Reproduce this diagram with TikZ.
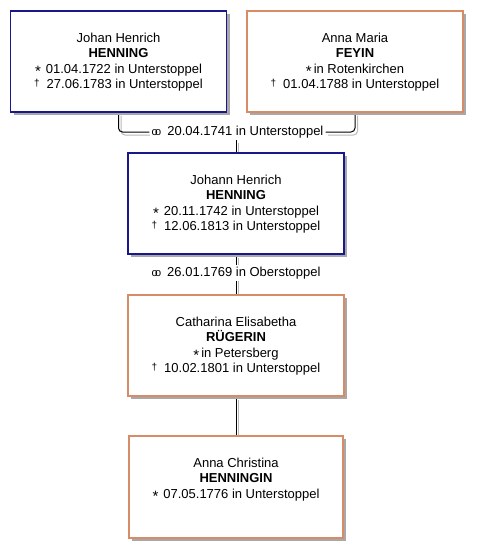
\documentclass[tikz,border=0pt]{standalone}
\usepackage{fontspec}
\setmainfont{Liberation Sans}
\usetikzlibrary{shadows,backgrounds}
\definecolor{boxblue}{RGB}{24,24,140}
\definecolor{boxorange}{RGB}{214,140,102}
\definecolor{shgray}{RGB}{168,168,168}
\definecolor{lngray}{RGB}{185,185,185}
\newcommand\bsym{{\fontsize{15}{15}\selectfont\raisebox{-3pt}{*}}}
\newcommand\dsym{{\fontsize{10}{10}\selectfont\raisebox{2pt}{†}}}
\newcommand\msym{{\fontsize{11}{11}\selectfont\rlap{o}\kern3.6pt o}}
\begin{document}
\begin{tikzpicture}[x=1pt,y=-1pt,
  box/.style={draw=#1, line width=1.2pt, fill=white, inner sep=0pt,
    minimum width=216pt, minimum height=101pt,
    drop shadow={shadow xshift=3pt, shadow yshift=-3pt, fill=shgray, opacity=1}},
  ptext/.style={anchor=north, align=center, inner sep=0pt,
    font=\fontsize{13}{15.5}\selectfont},
  mlabel/.style={fill=white, inner xsep=2pt, inner ysep=2pt,
    font=\fontsize{13}{15}\selectfont},
  conn/.style={draw=black, line width=1pt, rounded corners=4pt},
  connsh/.style={draw=lngray, line width=1pt, rounded corners=4pt,
    transform canvas={shift={(2.5pt,-3pt)}}}
]
\useasboundingbox (0,0) rectangle (482,558);

% person boxes
\node[box=boxblue] (b1) at (118.5,61.5) {};
\node[box=boxorange] (b2) at (355,61.5) {};
\node[box=boxblue] (b3) at (236,203.5) {};
\node[box=boxorange] (b4) at (236,345.5) {};
\node[box=boxorange, minimum width=214pt, minimum height=102pt] (b5) at (236,487) {};

% texts
\node[ptext] (t1) at ([yshift=-22pt]b1.north) {Johan Henrich\\\textbf{HENNING}\\\bsym\hspace{5pt}01.04.1722 in Unterstoppel\\\dsym\hspace{7pt}27.06.1783 in Unterstoppel};
\node[ptext] (t2) at ([yshift=-22pt]b2.north) {Anna Maria\\\textbf{FEYIN}\\\bsym\hspace{2pt}in Rotenkirchen\\\dsym\hspace{7pt}01.04.1788 in Unterstoppel};
\node[ptext] (t3) at ([yshift=-22pt]b3.north) {Johann Henrich\\\textbf{HENNING}\\\bsym\hspace{5pt}20.11.1742 in Unterstoppel\\\dsym\hspace{7pt}12.06.1813 in Unterstoppel};
\node[ptext] (t4) at ([yshift=-22pt]b4.north) {Catharina Elisabetha\\\textbf{RÜGERIN}\\\bsym\hspace{2pt}in Petersberg\\\dsym\hspace{7pt}10.02.1801 in Unterstoppel};
\node[ptext] (t5) at ([yshift=-22pt]b5.north) {Anna Christina\\\textbf{HENNINGIN}\\\bsym\hspace{5pt}07.05.1776 in Unterstoppel};

% marriage labels
\node[mlabel] (m1) at (237.5,132) {\msym\hspace{6pt}20.04.1741 in Unterstoppel};
\node[mlabel] (m2) at (236,273) {\msym\hspace{6pt}26.01.1769 in Oberstoppel};

% connectors
\begin{pgfonlayer}{background}
\draw[connsh] (b1.south) |- (m1.west);
\draw[connsh] (b2.south) |- (m1.east);
\draw[connsh] (m1.south -| b3.north) -- (b3.north);
\draw[connsh] (b3.south) -- (b4.north);
\draw[connsh] (b4.south) -- (b5.north);
\draw[conn] (b1.south) |- (m1.west);
\draw[conn] (b2.south) |- (m1.east);
\draw[conn] (m1.south -| b3.north) -- (b3.north);
\draw[conn] (b3.south) -- (b4.north);
\draw[conn] (b4.south) -- (b5.north);
\end{pgfonlayer}
\end{tikzpicture}
\end{document}
